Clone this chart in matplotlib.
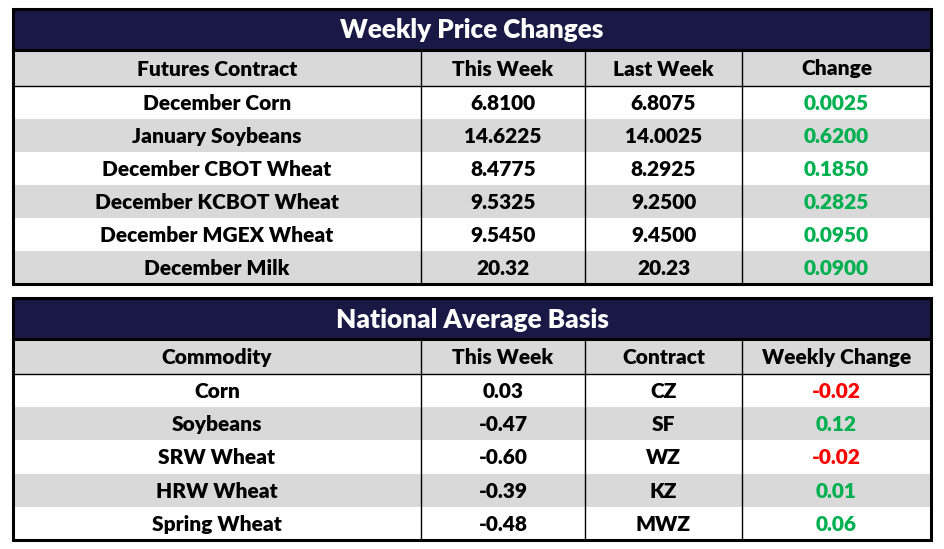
import matplotlib.pyplot as plt
from matplotlib.patches import Rectangle

# table 1 data
price_title = 'Weekly Price Changes'
price_header = ['Futures Contract', 'This Week', 'Last Week', 'Change']
contracts = ['December Corn', 'January Soybeans', 'December CBOT Wheat',
             'December KCBOT Wheat', 'December MGEX Wheat', 'December Milk']
this_week = ['6.8100', '14.6225', '8.4775', '9.5325', '9.5450', '20.32']
last_week = ['6.8075', '14.0025', '8.2925', '9.2500', '9.4500', '20.23']
change = ['0.0025', '0.6200', '0.1850', '0.2825', '0.0950', '0.0900']

# table 2 data
basis_title = 'National Average Basis'
basis_header = ['Commodity', 'This Week', 'Contract', 'Weekly Change']
commodities = ['Corn', 'Soybeans', 'SRW Wheat', 'HRW Wheat', 'Spring Wheat']
basis_week = ['0.03', '-0.47', '-0.60', '-0.39', '-0.48']
basis_contract = ['CZ', 'SF', 'WZ', 'KZ', 'MWZ']
basis_change = ['-0.02', '0.12', '-0.02', '0.01', '0.06']

NAVY = '#1a1946'
GRAY = '#d9d9d9'
GREEN = '#00b050'
RED = '#ff0000'
FONT = 'Lato'
WEIGHT = 'heavy'

W, H = 945, 549
fig = plt.figure(figsize=(W / 100, H / 100), dpi=100)
ax = fig.add_axes([0, 0, 1, 1])
ax.set_xlim(0, W)
ax.set_ylim(H, 0)
ax.axis('off')

col_edges = [13, 421, 585, 742, 931]


def draw_table(top, title, header, columns, title_h=41, header_h=36, row_h=33):
    left, right = col_edges[0], col_edges[-1]
    nrows = len(columns[0])
    # title bar
    ax.add_patch(Rectangle((left, top), right - left, title_h, color=NAVY, lw=0))
    ax.text((left + right) / 2, top + title_h / 2 + 1, title, color='white',
            fontsize=18.8, fontweight=WEIGHT, family=FONT, ha='center', va='center')
    y = top + title_h
    ax.add_patch(Rectangle((left, y), right - left, header_h, color=GRAY, lw=0))
    for i, h in enumerate(header):
        cx = (col_edges[i] + col_edges[i + 1]) / 2
        ax.text(cx, y + header_h / 2 + 1, h, fontsize=15, fontweight=WEIGHT,
                family=FONT, ha='center', va='center', color='black')
    ax.plot([left, right], [y, y], color='black', lw=2.2)
    y += header_h
    ax.plot([left, right], [y, y], color='black', lw=1)
    for r in range(nrows):
        ry = y + r * row_h
        if r % 2 == 1:
            ax.add_patch(Rectangle((left, ry), right - left, row_h, color=GRAY, lw=0))
        for c, col in enumerate(columns):
            txt, clr = col[r]
            cx = (col_edges[c] + col_edges[c + 1]) / 2
            ax.text(cx, ry + row_h / 2 + 1, txt, fontsize=15, fontweight=WEIGHT,
                    family=FONT, ha='center', va='center', color=clr)
    bottom = y + nrows * row_h
    for x in col_edges[1:-1]:
        ax.plot([x, x], [top + title_h, bottom], color='black', lw=1)
    ax.add_patch(Rectangle((left, top), right - left, bottom - top, fill=False,
                           ec='black', lw=2.2))


def colour(v):
    return RED if v.startswith('-') else GREEN


draw_table(9, price_title, price_header, [
    [(t, 'black') for t in contracts],
    [(t, 'black') for t in this_week],
    [(t, 'black') for t in last_week],
    [(t, colour(t)) for t in change],
])

draw_table(298, basis_title, basis_header, [
    [(t, 'black') for t in commodities],
    [(t, 'black') for t in basis_week],
    [(t, 'black') for t in basis_contract],
    [(t, colour(t)) for t in basis_change],
], title_h=41, header_h=35, row_h=33.2)

fig.savefig('out.png', dpi=100, facecolor='white')
